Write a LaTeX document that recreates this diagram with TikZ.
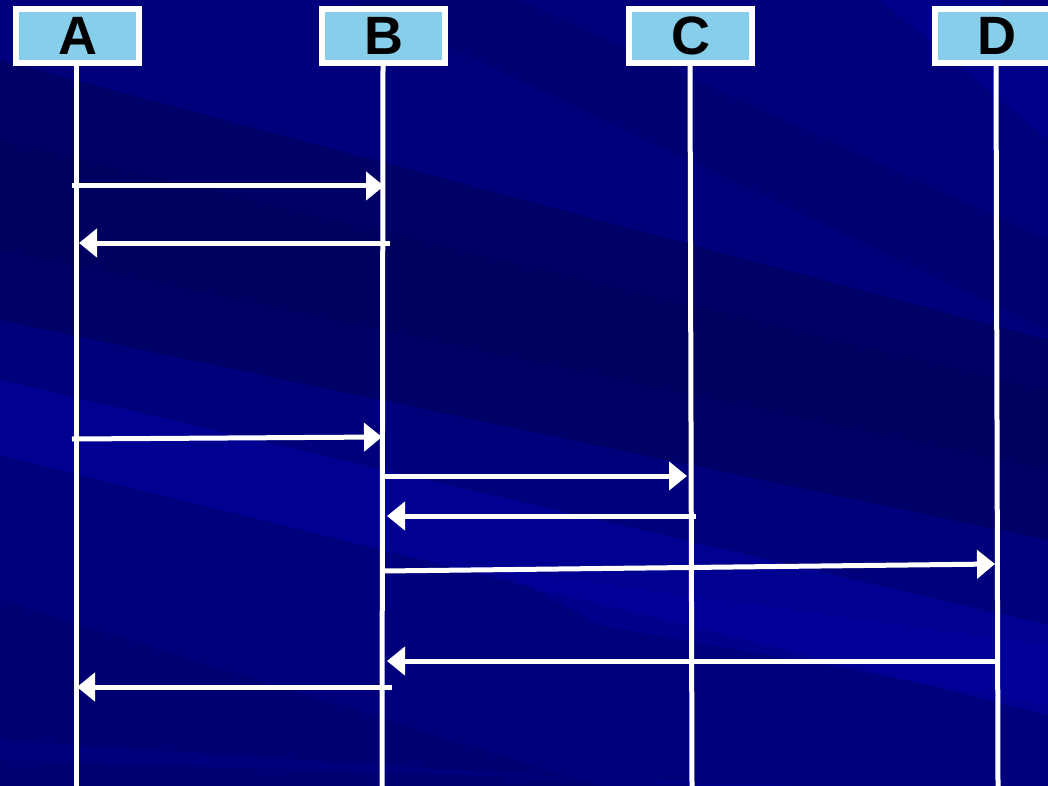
\documentclass[tikz,border=0pt]{standalone}
\usepackage{fontspec}
\setmainfont{Liberation Sans}
\usetikzlibrary{arrows.meta}
\definecolor{bgbase}{RGB}{0,0,125}
\definecolor{bgdark}{RGB}{0,0,85}
\definecolor{bglight}{RGB}{0,0,165}
\definecolor{hdrfill}{RGB}{135,206,235}
\tikzset{
  hdr/.style={draw=white, line width=6pt, fill=hdrfill, minimum width=123pt, minimum height=54pt,
    inner sep=0pt, font=\fontsize{54}{54}\selectfont\bfseries, text=black},
  life/.style={draw=white, line width=5pt},
  msg/.style={draw=white, line width=5pt, -{Triangle[length=18pt, width=28pt]}},
}
\begin{document}
\begin{tikzpicture}[x=1pt, y=-1pt]
\useasboundingbox (0,0) rectangle (1048,786);
\begin{scope}
\clip (0,0) rectangle (1048,786);
\fill[bgbase] (0,0) rectangle (1048,786);
% dark diagonal bands
\fill[bgdark, opacity=0.55] (0,60) -- (0,320) -- (1048,540) -- (1048,340) -- cycle;
\fill[bgdark, opacity=0.35] (0,140) -- (0,250) -- (1048,470) -- (1048,390) -- cycle;
\fill[bgdark, opacity=0.25] (350,0) -- (520,0) -- (1048,240) -- (1048,330) -- cycle;
% lighter bands
\fill[bglight, opacity=0.5] (0,380) -- (0,455) -- (1048,715) -- (1048,625) -- cycle;
\fill[bglight, opacity=0.4] (500,570) -- (1048,645) -- (1048,705) -- (600,625) -- cycle;
\fill[bglight, opacity=0.35] (880,0) -- (1000,0) -- (1048,60) -- (1048,140) -- cycle;
\fill[bgdark, opacity=0.25] (0,600) -- (0,786) -- (600,786) -- cycle;
\fill[bglight, opacity=0.25] (0,740) -- (0,760) -- (800,786) -- (700,786) -- cycle;
\end{scope}
% headers
\node[hdr] (A) at (77.5,36) {\raisebox{-1.5pt}{A}};
\node[hdr] (B) at (383.5,36) {\raisebox{-1.5pt}{B}};
\node[hdr] (C) at (690.5,36) {\raisebox{-1.5pt}{C}};
\node[hdr] (D) at (996.5,36) {\raisebox{-1.5pt}{D}};
% lifeline ends
\coordinate (At) at (76,66);  \coordinate (Ab) at (76,786);
\coordinate (Bt) at (383,66); \coordinate (Bb) at (382,786);
\coordinate (Ct) at (690,66); \coordinate (Cb) at (692,786);
\coordinate (Dt) at (996,66); \coordinate (Db) at (998,786);
\draw[life] (At) -- (Ab);
\draw[life] (Bt) -- (Bb);
\draw[life] (Ct) -- (Cb);
\draw[life] (Dt) -- (Db);
% message points
\coordinate (m1s) at (72,186);  \coordinate (m1e) at (384,186);
\coordinate (m2s) at (390,243); \coordinate (m2e) at (79,243);
\coordinate (m3s) at (72,439);  \coordinate (m3e) at (382,437);
\coordinate (m4s) at (383,476); \coordinate (m4e) at (687,476);
\coordinate (m5s) at (696,516); \coordinate (m5e) at (387,516);
\coordinate (m6s) at (383,571); \coordinate (m6e) at (995,564);
\coordinate (m7s) at (998,661); \coordinate (m7e) at (387,661);
\coordinate (m8s) at (392,687); \coordinate (m8e) at (77,687);
\foreach \i in {1,...,8} { \draw[msg] (m\i s) -- (m\i e); }
\end{tikzpicture}
\end{document}
